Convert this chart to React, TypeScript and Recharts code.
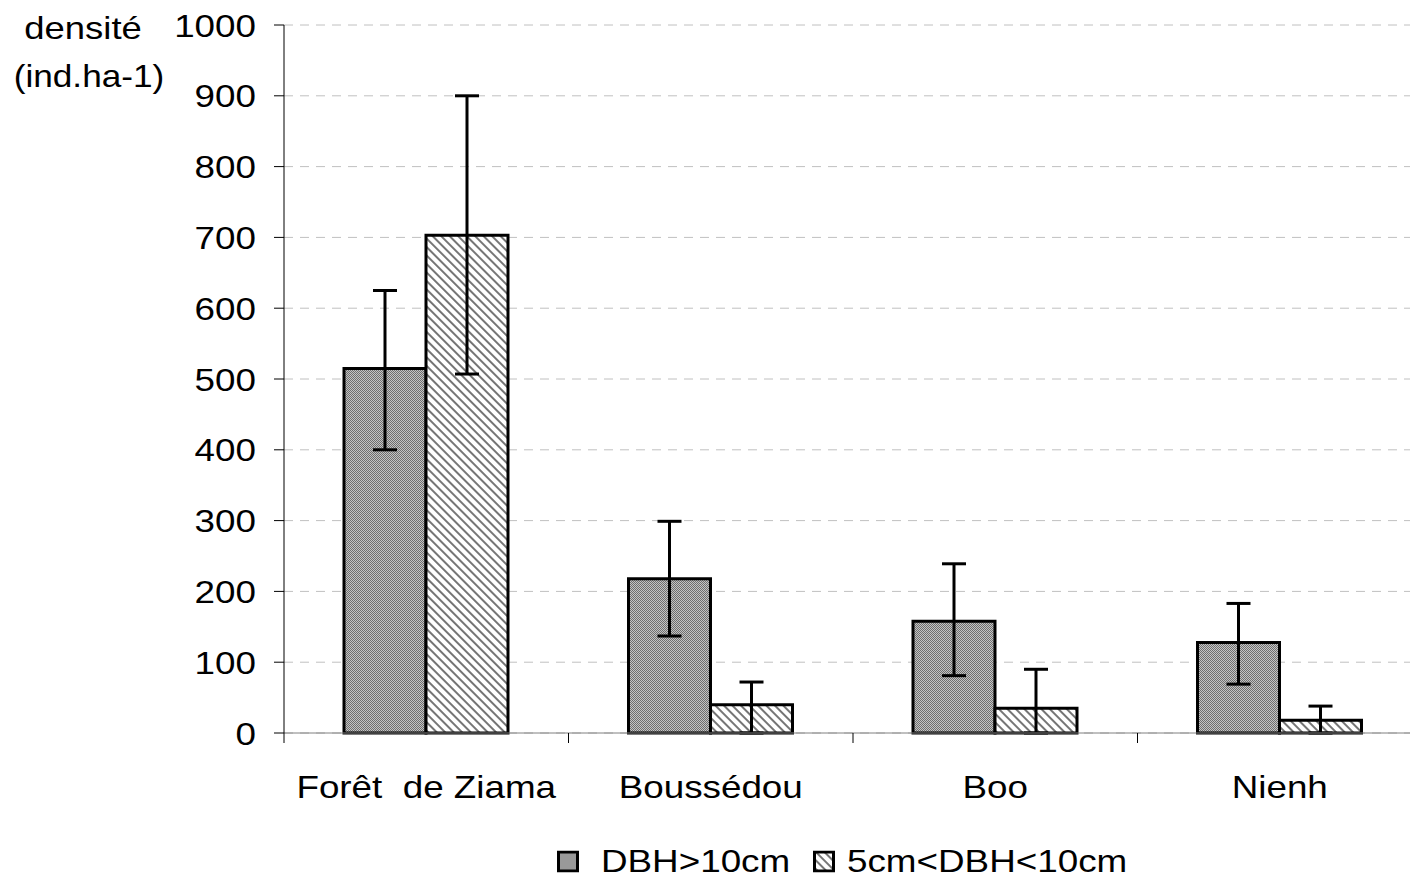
import React from 'react';
import { BarChart, Bar, XAxis, YAxis, CartesianGrid, ErrorBar } from 'recharts';

const categories = ['Forêt  de Ziama', 'Boussédou', 'Boo', 'Nienh'];
const dbhOver10 = [515, 218, 158, 128];
const dbhOver10Err = [[115, 110], [81, 81], [77, 81], [59, 55]];
const dbh5to10 = [703, 40, 35, 18];
const dbh5to10Err = [[196, 197], [40, 32], [35, 55], [18, 20]];
const yTicks = [0, 100, 200, 300, 400, 500, 600, 700, 800, 900, 1000];
const seriesNames = ['DBH>10cm', '5cm<DBH<10cm'];

const FONT = '"Liberation Sans", Arial, sans-serif';
const STRETCH = 1.15;

const chartData = categories.map((site, i) => ({
  site,
  big: dbhOver10[i],
  bigErr: dbhOver10Err[i],
  small: dbh5to10[i],
  smallErr: dbh5to10Err[i],
}));

// category band width: plot is 1138px wide for 4 sites
const BAND = 1138 / categories.length;

const XTick = (props: any) => {
  const { x, y, payload } = props;
  return (
    <g>
      <line x1={x - BAND / 2} y1={y - 10} x2={x - BAND / 2} y2={y} stroke="#000" strokeWidth={1} />
      <g transform={`translate(${x},${y + 55}) scale(${STRETCH},1)`}>
        <text textAnchor="middle" fontSize={32} fontFamily={FONT} fill="#000" style={{ whiteSpace: 'pre' }}>
          {payload.value}
        </text>
      </g>
    </g>
  );
};

const YTick = (props: any) => {
  const { x, y, payload } = props;
  return (
    <g transform={`translate(${x},${y}) scale(${STRETCH},1)`}>
      <text textAnchor="end" dy="0.36em" fontSize={32} fontFamily={FONT} fill="#000">
        {payload.value}
      </text>
    </g>
  );
};

const Swatch = ({ fill }: { fill: string }) => (
  <svg width={22} height={22} style={{ display: 'block' }}>
    <rect x={1.5} y={1.5} width={19} height={19} fill={fill} stroke="#000" strokeWidth={3} />
  </svg>
);

export default function App() {
  return (
    <div style={{ position: 'absolute', left: 0, top: 0, width: 1410, height: 880, overflow: 'hidden', background: '#fff' }}>
      <svg width={0} height={0} style={{ position: 'absolute' }}>
        <defs>
          <pattern id="checker" width={2} height={2} patternUnits="userSpaceOnUse">
            <rect width={2} height={2} fill="#c4c4c4" />
            <rect width={1} height={1} fill="#6e6e6e" />
            <rect x={1} y={1} width={1} height={1} fill="#6e6e6e" />
          </pattern>
          <pattern id="hatch" width={6} height={6} patternUnits="userSpaceOnUse" patternTransform="rotate(-45)">
            <rect width={6} height={6} fill="#fff" />
            <line x1={1} y1={0} x2={1} y2={6} stroke="#666" strokeWidth={1.8} />
          </pattern>
        </defs>
      </svg>

      <div style={{ position: 'absolute', left: 83, top: 28, transform: `translate(-50%,-50%) scaleX(1.14)`, fontFamily: FONT, fontSize: 32, whiteSpace: 'nowrap' }}>
        densité
      </div>
      <div style={{ position: 'absolute', left: 89, top: 76, transform: `translate(-50%,-50%) scaleX(1.1)`, fontFamily: FONT, fontSize: 32, whiteSpace: 'nowrap' }}>
        (ind.ha-1)
      </div>

      <BarChart
        width={1422}
        height={880}
        data={chartData}
        margin={{ top: 25, right: 0, left: 0, bottom: 0 }}
        barGap={0}
        barSize={82}
      >
        <CartesianGrid vertical={false} stroke="#c0c0c0" strokeDasharray="9 7" />
        <XAxis
          dataKey="site"
          height={147}
          stroke="#808080"
          tickLine={false}
          tickSize={10}
          tickMargin={0}
          interval={0}
          tick={<XTick />}
        />
        <YAxis
          width={284}
          domain={[0, 1000]}
          ticks={yTicks}
          stroke="#000"
          tickSize={10}
          tickMargin={18}
          interval={0}
          tick={<YTick />}
        />
        <Bar dataKey="big" name={seriesNames[0]} fill="url(#checker)" stroke="#000" strokeWidth={3} isAnimationActive={false}>
          <ErrorBar dataKey="bigErr" direction="y" width={12} stroke="#000" strokeWidth={3} isAnimationActive={false} />
        </Bar>
        <Bar dataKey="small" name={seriesNames[1]} fill="url(#hatch)" stroke="#000" strokeWidth={3} isAnimationActive={false}>
          <ErrorBar dataKey="smallErr" direction="y" width={12} stroke="#000" strokeWidth={3} isAnimationActive={false} />
        </Bar>
      </BarChart>

      <div style={{ position: 'absolute', left: 557, top: 861, transform: 'translateY(-50%)', display: 'flex', alignItems: 'center', fontFamily: FONT, fontSize: 32 }}>
        <Swatch fill="url(#checker)" />
        <span style={{ display: 'inline-block', width: 234, marginLeft: 0 }}>
          <span style={{ display: 'inline-block', marginLeft: 22, transform: `scaleX(${STRETCH})`, transformOrigin: 'left center' }}>{seriesNames[0]}</span>
        </span>
        <Swatch fill="url(#hatch)" />
        <span style={{ display: 'inline-block', marginLeft: 12, transform: `scaleX(${STRETCH})`, transformOrigin: 'left center', whiteSpace: 'nowrap' }}>{seriesNames[1]}</span>
      </div>
    </div>
  );
}
